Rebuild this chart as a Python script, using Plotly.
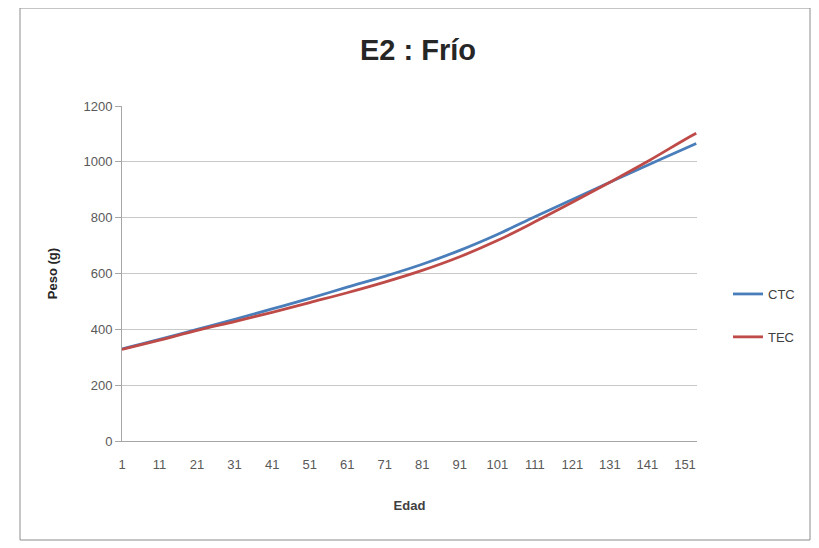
import plotly.graph_objects as go

# Data (Edad category -> Peso (g))
edad = [1, 11, 21, 31, 41, 51, 61, 71, 81, 91, 101, 111, 121, 131, 141, 151, 154]
ctc = [330, 364, 400, 436, 473, 511, 551, 590, 633, 683, 740, 803, 865, 927, 988, 1048, 1066]
tec = [328, 361, 396, 428, 461, 496, 531, 569, 611, 660, 718, 785, 855, 927, 1001, 1080, 1102]
x_ticks = [1, 11, 21, 31, 41, 51, 61, 71, 81, 91, 101, 111, 121, 131, 141, 151]
y_ticks = [0, 200, 400, 600, 800, 1000, 1200]

FONT = "Liberation Sans Narrow, Liberation Sans, Open Sans, sans-serif"
W, H = 819, 548
OFF = 8  # page body margin offset
L, R, T, B = 122 - OFF, 122 + OFF, 106 - OFF, 107 + OFF
pw, ph = W - L - R, H - T - B

def px_x(p):
    return (p - OFF - L) / pw

def px_y(p):
    return (H - B - (p - OFF)) / ph

fig = go.Figure()
fig.add_trace(go.Scatter(x=edad, y=ctc, mode="lines", name="CTC", legendgroup="a",
                         line=dict(color="#4A7EBB", width=2.8, shape="spline", smoothing=1.0)))
fig.add_trace(go.Scatter(x=edad, y=tec, mode="lines", name="TEC", legendgroup="b",
                         line=dict(color="#BE4B48", width=2.8, shape="spline", smoothing=1.0)))

fig.update_layout(
    width=W, height=H,
    margin=dict(l=L, r=R, t=T, b=B),
    paper_bgcolor="white", plot_bgcolor="white",
    font=dict(family=FONT, size=13, color="#595959"),
    showlegend=True,
    legend=dict(x=px_x(728), y=px_y(279), xanchor="left", yanchor="top",
                font=dict(family=FONT, size=13, color="#404040"),
                tracegroupgap=23, traceorder="grouped", bgcolor="rgba(0,0,0,0)"),
    xaxis=dict(range=[1, 154.2], tickmode="array", tickvals=x_ticks,
               ticktext=[str(v) for v in x_ticks], automargin=False,
               showgrid=False, zeroline=False, showline=True, linecolor="#A6A6A6", linewidth=1,
               ticks="outside", ticklen=11, tickcolor="rgba(0,0,0,0)",
               tickfont=dict(size=13, color="#595959"),
               title=dict(text="<b>Edad</b>", font=dict(size=13, color="#404040"), standoff=30)),
    yaxis=dict(range=[0, 1200], tickmode="array", tickvals=y_ticks, automargin=False,
               showgrid=True, gridcolor="#C8C8C8", gridwidth=1, zeroline=False,
               showline=True, linecolor="#A6A6A6", linewidth=1,
               ticks="outside", ticklen=6, tickcolor="#A6A6A6",
               tickfont=dict(size=13, color="#595959"),
               title=dict(text="<b>Peso (g)</b>", font=dict(size=13, color="#262626"), standoff=22)),
    shapes=[dict(type="rect", xref="paper", yref="paper",
                 x0=px_x(20), x1=px_x(810), y0=px_y(540), y1=px_y(8),
                 line=dict(color="#8C8C8C", width=1), fillcolor="rgba(0,0,0,0)", layer="below")],
    annotations=[dict(text="<b>E2 : Frío</b>", xref="paper", yref="paper",
                      x=px_x(418), y=px_y(50), xanchor="center", yanchor="middle",
                      showarrow=False, font=dict(family=FONT, size=29, color="#262626"))],
)

fig.write_html("out.html")
